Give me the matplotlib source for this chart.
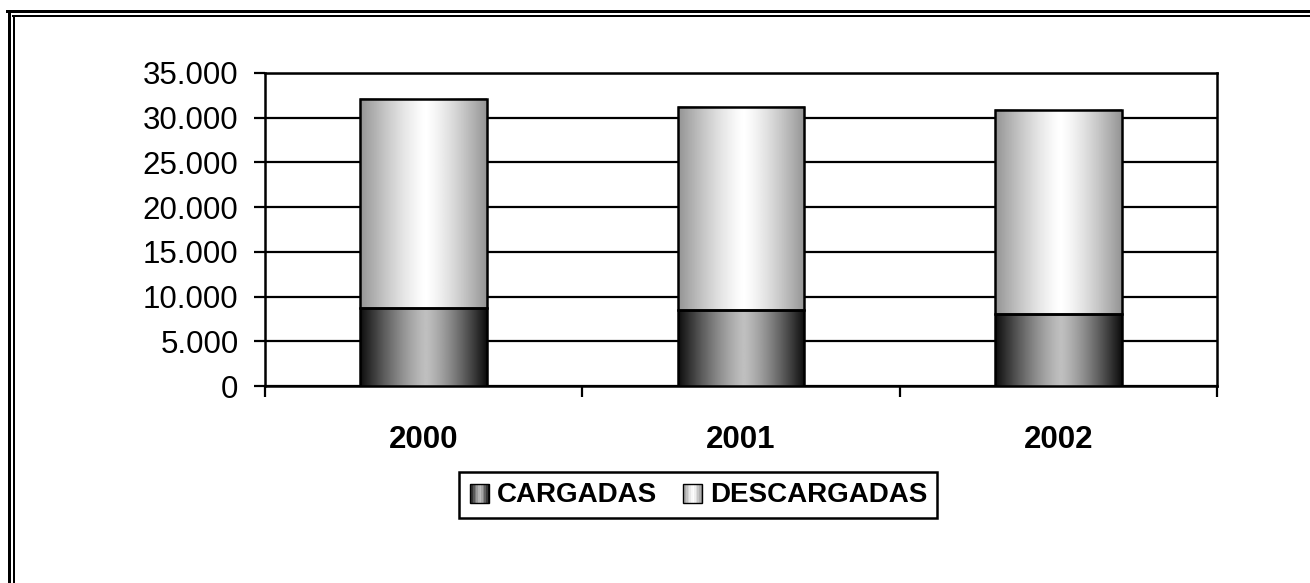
import numpy as np
import matplotlib
matplotlib.use("Agg")
import matplotlib.pyplot as plt
from matplotlib.patches import Rectangle
from matplotlib.lines import Line2D
from matplotlib.legend_handler import HandlerBase
from matplotlib.ticker import FuncFormatter

# data
years = ["2000", "2001", "2002"]
cargadas = [8700, 8500, 8000]
descargadas = [23400, 22700, 22900]
series_names = ["CARGADAS", "DESCARGADAS"]

plt.rcParams['font.family'] = ['Liberation Sans', 'DejaVu Sans']


def profile(lo, hi, n=200, peak=0.52):
    t = np.linspace(0, 1, n)
    d = np.where(t < peak, (peak - t) / peak, (t - peak) / (1 - peak))
    return lo + (hi - lo) * (1 - d ** 1.3)


grad_car = profile(0.05, 0.75)
grad_des = profile(0.58, 1.0)

fig = plt.figure(figsize=(13.1, 5.83), dpi=100)
ax = fig.add_axes([265 / 1310, 1 - 386 / 583, (1217 - 265) / 1310, (386 - 73) / 583])

x = np.arange(len(years))
w = 0.4
bottoms = np.zeros(len(years))
for vals, grad in [(cargadas, grad_car), (descargadas, grad_des)]:
    for xi, b, v in zip(x, bottoms, vals):
        ax.imshow(grad[np.newaxis, :], cmap='gray', vmin=0, vmax=1, aspect='auto',
                  extent=[xi - w / 2, xi + w / 2, b, b + v], zorder=3, interpolation='bilinear')
    ax.bar(x, vals, w, bottom=bottoms, facecolor='none', edgecolor='black', linewidth=1.8, zorder=4)
    bottoms = bottoms + np.array(vals)

ax.set_xlim(-0.5, 2.5)
ax.set_ylim(0, 35000)
ax.set_yticks(np.arange(0, 35001, 5000))
ax.yaxis.set_major_formatter(FuncFormatter(lambda v, p: f"{int(v):,}".replace(",", ".")))
ax.yaxis.grid(True, color='black', linewidth=1.6)
ax.set_axisbelow(True)

ax.set_xticks([-0.5, 0.5, 1.5, 2.5])
ax.set_xticklabels([])
ax.set_xticks(x, minor=True)
ax.set_xticklabels(years, minor=True, fontsize=22.5, fontweight='bold')
ax.tick_params(axis='x', which='minor', length=0, pad=28)
ax.tick_params(axis='x', which='major', length=8, width=1.6, direction='out')
ax.tick_params(axis='y', length=8, width=1.6, direction='out', labelsize=22.5, pad=11)
for s in ax.spines.values():
    s.set_linewidth(1.8)
    s.set_color('black')


class GradHandler(HandlerBase):
    def __init__(self, grad):
        super().__init__()
        self.grad = grad

    def create_artists(self, legend, orig_handle, xdescent, ydescent, width, height, fontsize, trans):
        arts = []
        n = 12
        size = height * 1.0
        x0 = -xdescent + (width - size) / 2
        y0 = -ydescent + (height - size) / 2 - 1
        for i in range(n):
            g = self.grad[int(i * (len(self.grad) - 1) / (n - 1))]
            arts.append(Rectangle((x0 + i * size / n, y0), size / n + 0.3, size,
                                  facecolor=str(g), edgecolor='none', transform=trans))
        arts.append(Rectangle((x0, y0), size, size, facecolor='none', edgecolor='black',
                              linewidth=1.0, transform=trans))
        return arts


h1 = Rectangle((0, 0), 1, 1)
h2 = Rectangle((0, 1), 1, 1)
leg = fig.legend([h1, h2], series_names, loc='center', bbox_to_anchor=(0.533, 0.151),
                 ncol=2, fancybox=False, edgecolor='black', framealpha=1,
                 prop={'size': 20, 'weight': 'bold'}, handlelength=0.75, handletextpad=0.25,
                 columnspacing=0.9, borderpad=0.35, borderaxespad=0,
                 handler_map={h1: GradHandler(grad_car), h2: GradHandler(grad_des)})
leg.get_frame().set_linewidth(1.8)

# double frame around the figure
W, H = 1310, 583
for xp, lw in [(8.5, 3), (14, 2)]:
    fig.add_artist(Line2D([xp / W, xp / W], [0, 1 - (xp + 2.5) / H], color='black', linewidth=lw * 0.72,
                          transform=fig.transFigure))
for yp, lw, xs in [(11, 3, 7), (16, 2, 13)]:
    fig.add_artist(Line2D([xs / W, 1], [1 - yp / H, 1 - yp / H], color='black', linewidth=lw * 0.72,
                          transform=fig.transFigure))

fig.savefig("out.png", dpi=100)
